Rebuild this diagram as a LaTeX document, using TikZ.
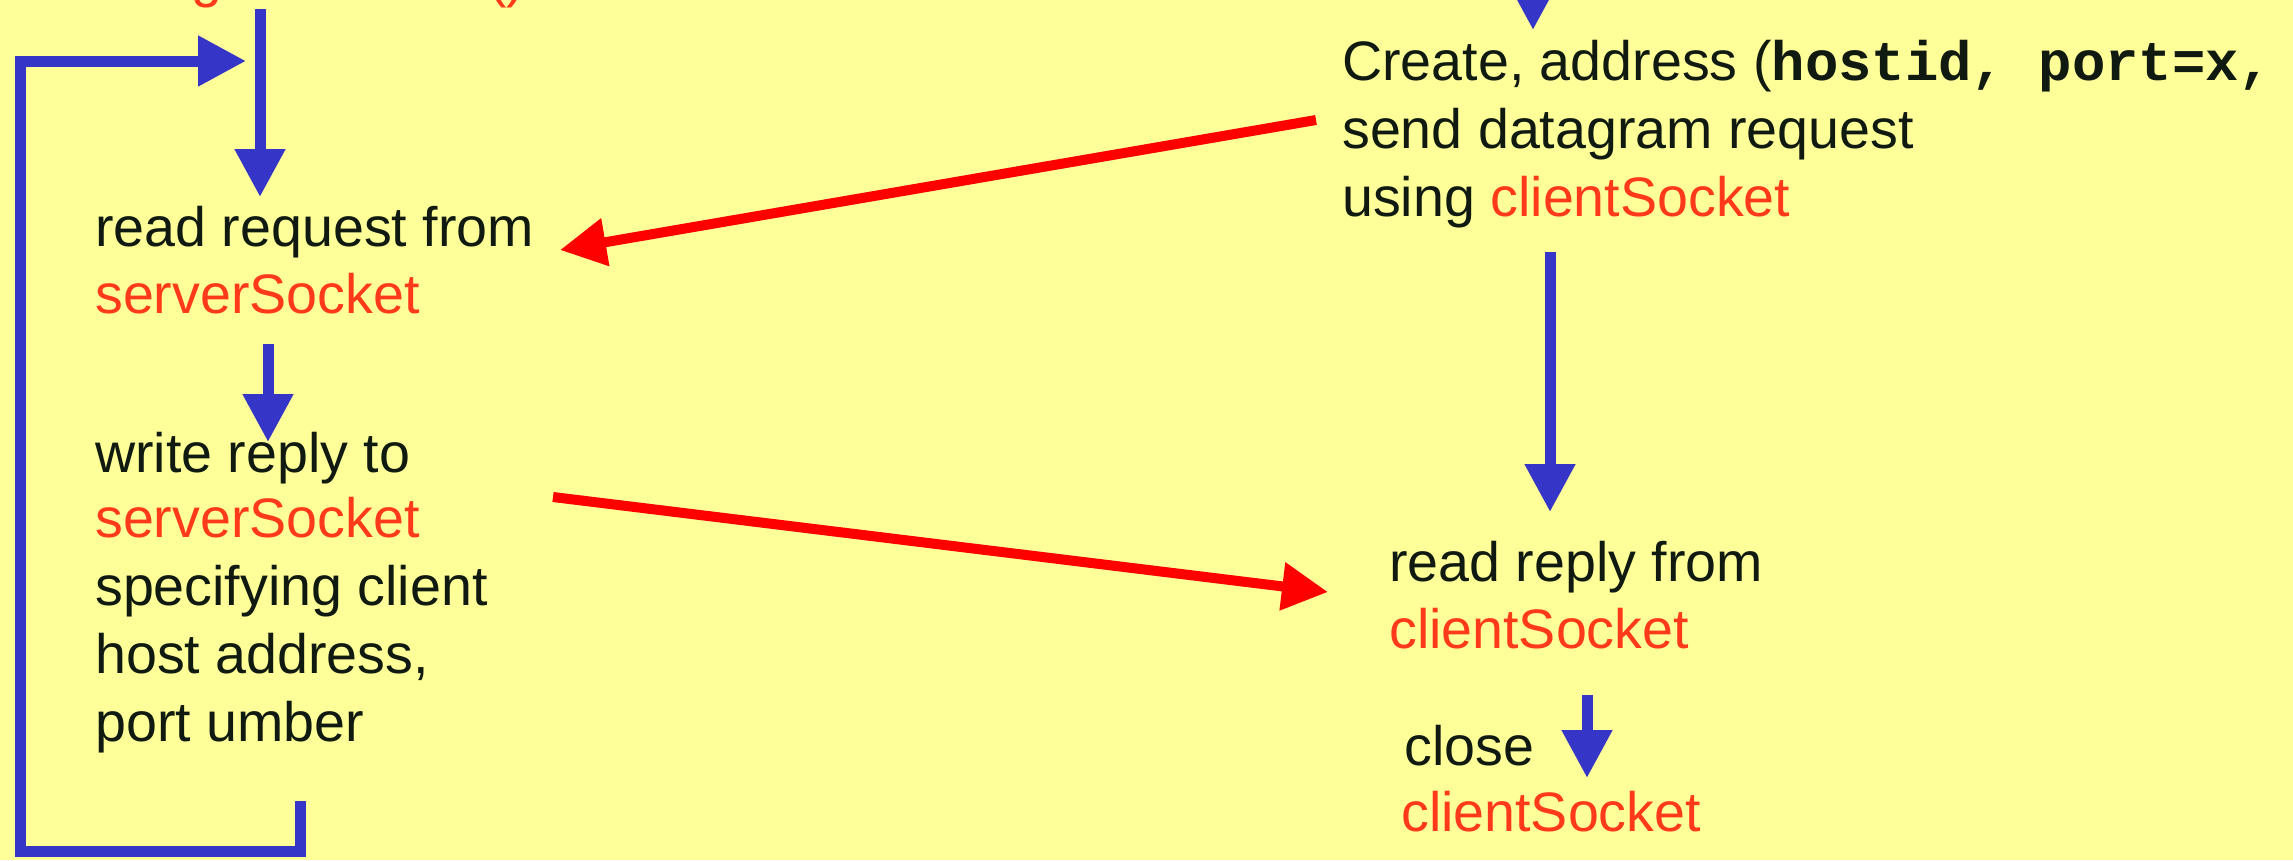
\documentclass[tikz,border=0pt]{standalone}
\usepackage{fontspec}
\setmainfont{Liberation Sans}
\newfontfamily\codefont{Liberation Mono}
\usetikzlibrary{arrows.meta}
\definecolor{bg}{HTML}{FFFF99}
\definecolor{arrblue}{HTML}{3535C8}
\definecolor{arrred}{HTML}{FF0000}
\definecolor{sockred}{HTML}{FF3A1A}
\definecolor{txt}{HTML}{101A10}
\tikzset{
  lbl/.style={anchor=base west, inner sep=0pt, font=\fontsize{55.6}{68}\selectfont, text=txt},
  sock/.style={lbl, text=sockred},
  flow/.style={draw=arrblue, line width=11pt, -{Triangle[length=48pt,width=48pt]}},
  loopline/.style={draw=arrblue, line width=11pt, miter limit=10},
  msg/.style={draw=arrred, line width=10pt, -{Triangle[length=46pt,width=46pt]}},
}
\begin{document}
\begin{tikzpicture}[x=1pt,y=-1pt]
\fill[bg] (0,0) rectangle (2293,860);
\useasboundingbox (0,0) rectangle (2293,860);
\clip (0,0) rectangle (2293,860);

% cut-off text at top left
\node[sock] (dgs) at (74,-4) {DatagramSocket()};

% server side texts
\node[lbl]  (rq1) at (95,246) {read request from};
\node[sock] (rq2) at (95,313) {serverSocket};
\node[lbl]  (wr1) at (95,472) {write reply to};
\node[sock] (wr2) at (95,537) {serverSocket};
\node[lbl]  (wr3) at (95,605) {specifying client};
\node[lbl]  (wr4) at (95,673) {host address,};
\node[lbl]  (wr5) at (95,741) {port umber};

% client side texts
\node[lbl]  (cr1) at (1342,80) {Create, address ({\codefont\bfseries hostid, port=x,}};
\node[lbl]  (cr2) at (1342,148) {send datagram request};
\node[lbl]  (cr3) at (1342,216) {using \textcolor{sockred}{clientSocket}};
\node[lbl]  (rr1) at (1389,581) {read reply from};
\node[sock] (rr2) at (1389,648) {clientSocket};
\node[lbl]  (cl1) at (1404,765) {close};
\node[sock] (cl2) at (1401,831) {clientSocket};

% coordinates for connector ends
\coordinate (a1s) at (260,9);
\coordinate (a1e) at (260,197);
\coordinate (a2s) at (268,344);
\coordinate (a2e) at (268,442);
\coordinate (lp1) at (300,801);
\coordinate (lp2) at (300,851);
\coordinate (lp3) at (20,851);
\coordinate (lp4) at (20,61);
\coordinate (lp5) at (246,61);
\coordinate (b0s) at (1533,-60);
\coordinate (b0e) at (1533,30);
\coordinate (b1s) at (1550,252);
\coordinate (b1e) at (1550,512);
\coordinate (b2s) at (1587,695);
\coordinate (b2e) at (1587,778);
\coordinate (r1s) at (1316,120);
\coordinate (r1e) at (560,250);
\coordinate (r2s) at (553,497);
\coordinate (r2e) at (1328,592);

% blue flow arrows
\draw[flow] (a1s) -- (a1e);
\draw[flow] (a2s) -- (a2e);
\draw[loopline] (lp1) -- (lp2) -- (lp3) -- (lp4) -- ([xshift=-44pt]lp5);
\draw[flow] ([xshift=-52pt]lp5) -- (lp5);
\draw[flow] (b0s) -- (b0e);
\draw[flow] (b1s) -- (b1e);
\draw[flow] (b2s) -- (b2e);

% red message arrows
\draw[msg] (r1s) -- (r1e);
\draw[msg] (r2s) -- (r2e);
\end{tikzpicture}
\end{document}
